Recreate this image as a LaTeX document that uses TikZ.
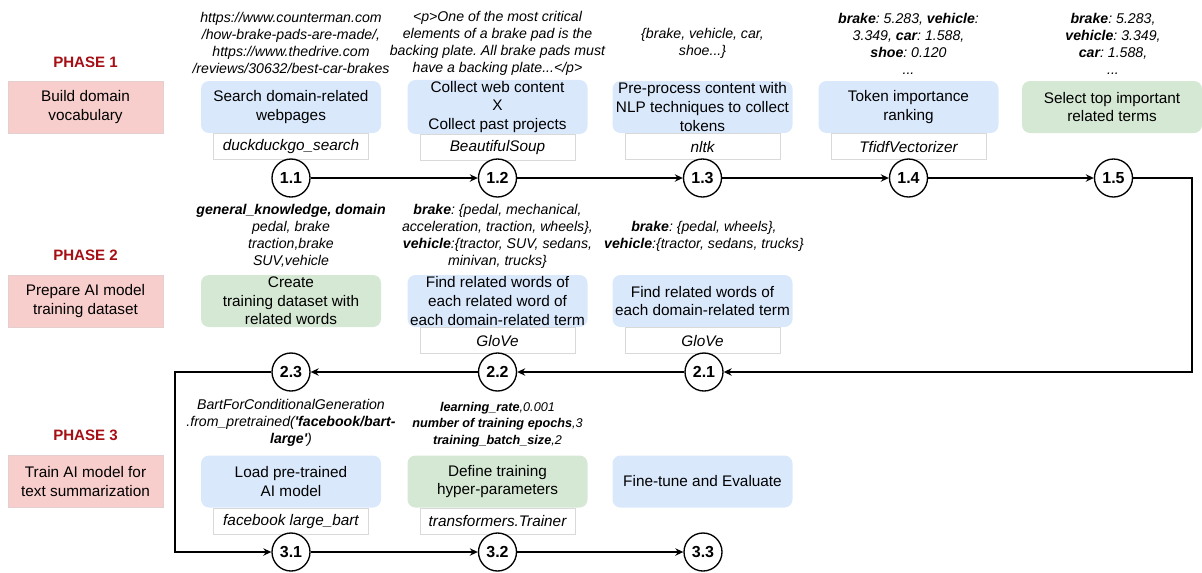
\documentclass[tikz,border=0pt]{standalone}
\usepackage{fontspec}
\setmainfont{Liberation Sans}
\usetikzlibrary{positioning,arrows.meta}
\frenchspacing

\definecolor{taskblue}{HTML}{DAE8FC}
\definecolor{taskgreen}{HTML}{D5E8D4}
\definecolor{phasepink}{HTML}{F8CECC}
\definecolor{phasered}{HTML}{A50F15}

\begin{document}
\begin{tikzpicture}[x=0.75pt,y=-0.75pt,
  phase/.style={fill=phasepink, draw=phasepink!85!black!60, minimum width=116pt, minimum height=39pt,
    align=center, font=\fontsize{11.5}{13.9}\selectfont},
  title/.style={text=phasered, font=\fontsize{11.3}{13}\selectfont\bfseries},
  task/.style={rounded corners=6pt, minimum width=135pt, minimum height=39pt, inner sep=1pt,
    align=center, font=\fontsize{11.5}{13.9}\selectfont},
  tool/.style={draw=black!15, fill=white, minimum width=116pt, minimum height=19.5pt, inner sep=1pt,
    font=\fontsize{11.5}{13.9}\selectfont\itshape},
  note/.style={align=center, inner sep=0pt, font=\fontsize{10.6}{12.75}\selectfont\itshape},
  num/.style={circle, draw, line width=1pt, fill=white, minimum size=28.5pt, inner sep=0pt,
    font=\fontsize{12}{14}\selectfont\bfseries},
  flow/.style={line width=1pt, -{Stealth[length=6pt,width=5.5pt]}}]

  \useasboundingbox (0,0) rectangle (1202,572);

  % phases
  \node[title] (ti1) at (85.5,62) {PHASE 1};
  \node[phase] (ph1) at (85.5,107) {Build domain\\vocabulary};
  \node[title] (ti2) at (85.5,255) {PHASE 2};
  \node[phase] (ph2) at (85.5,301) {Prepare AI model\\training dataset};
  \node[title] (ti3) at (85.5,435) {PHASE 3};
  \node[phase] (ph3) at (85.5,481.5) {Train AI model for\\text summarization};

  % phase 1
  \node[note] (n11) at (291,43) {https://www.counterman.com\\/how-brake-pads-are-made/,\\https://www.thedrive.com\\/reviews/30632/best-car-brakes};
  \node[task, fill=taskblue] (t11) at (291,107) {Search domain-related\\webpages};
  \node[tool, below=0pt of t11] (l11) {duckduckgo\_search};
  \node[num] (s11) at (291,178) {1.1};

  \node[note] (n12) at (497.5,43) {<p>One of the most critical\\elements of a brake pad is the\\backing plate. All brake pads must\\have a backing plate...</p>};
  \node[task, fill=taskblue] (t12) at (497.5,107) {Collect web content\\X\\Collect past projects};
  \node[tool, below=0pt of t12] (l12) {BeautifulSoup};
  \node[num] (s12) at (497.5,178) {1.2};

  \node[note] (n13) at (702.5,43) {\{brake, vehicle, car,\\shoe...\}};
  \node[task, fill=taskblue] (t13) at (702.5,107) {Pre-process content with\\NLP techniques to collect\\tokens};
  \node[tool, below=0pt of t13] (l13) {nltk};
  \node[num] (s13) at (702.5,178) {1.3};

  \node[note] (n14) at (908.5,44) {\textbf{brake}: 5.283, \textbf{vehicle}:\\3.349, \textbf{car}: 1.588,\\\textbf{shoe}: 0.120\\...};
  \node[task, fill=taskblue] (t14) at (908.5,107) {Token importance\\ranking};
  \node[tool, below=0pt of t14] (l14) {TfidfVectorizer};
  \node[num] (s14) at (908.5,178) {1.4};

  \node[note] (n15) at (1113,44) {\textbf{brake}: 5.283,\\\textbf{vehicle}: 3.349,\\\textbf{car}: 1.588,\\...};
  \node[task, fill=taskgreen] (t15) at (1112,107) {Select top important\\related terms};
  \node[num] (s15) at (1113.5,178) {1.5};

  % phase 2
  \node[note] (n21) at (704,236) {\textbf{brake}: \{pedal, wheels\},\\\textbf{vehicle}:\{tractor, sedans, trucks\}};
  \node[task, fill=taskblue] (t21) at (702.5,301) {Find related words of\\each domain-related term};
  \node[tool, below=0pt of t21] (l21) {GloVe};
  \node[num] (s21) at (704,372) {2.1};

  \node[note] (n22) at (497.5,236) {\textbf{brake}: \{pedal, mechanical,\\acceleration, traction, wheels\},\\\textbf{vehicle}:\{tractor, SUV, sedans,\\minivan, trucks\}};
  \node[task, fill=taskblue] (t22) at (497.5,301) {Find related words of\\each related word of\\each domain-related term};
  \node[tool, below=0pt of t22] (l22) {GloVe};
  \node[num] (s22) at (497.5,372) {2.2};

  \node[note] (n23) at (291,236) {\textbf{general\_knowledge, domain}\\pedal, brake\\traction,brake\\SUV,vehicle};
  \node[task, fill=taskgreen] (t23) at (291,301) {Create\\training dataset with\\related words};
  \node[num] (s23) at (291,372) {2.3};

  % phase 3
  \node[note] (n31) at (291,423) {BartForConditionalGeneration\\.from\_pretrained(\textbf{\textquotesingle facebook/bart-}\\\textbf{large\textquotesingle})};
  \node[task, fill=taskblue] (t31) at (291,481.5) {Load pre-trained\\AI model};
  \node[tool, below=0pt of t31] (l31) {facebook large\_bart};
  \node[num] (s31) at (291,552) {3.1};

  \node[note, font=\fontsize{9.5}{12.4}\selectfont\itshape] (n32) at (497.5,424.5) {\textbf{learning\_rate},0.001\\\textbf{number of training epochs},3\\\textbf{training\_batch\_size},2};
  \node[task, fill=taskgreen] (t32) at (497.5,481.5) {Define training\\hyper-parameters};
  \node[tool, below=0pt of t32] (l32) {transformers.Trainer};
  \node[num] (s32) at (497.5,552) {3.2};

  \node[task, fill=taskblue] (t33) at (702.5,481.5) {Fine-tune and Evaluate};
  \node[num] (s33) at (703,552) {3.3};

  % flow
  \coordinate (rgt) at (1192,0);
  \coordinate (lft) at (175,0);
  \draw[flow] (s11) -- (s12);
  \draw[flow] (s12) -- (s13);
  \draw[flow] (s13) -- (s14);
  \draw[flow] (s14) -- (s15);
  \draw[flow] (s15) -| (rgt |- s21) -- (s21);
  \draw[flow] (s21) -- (s22);
  \draw[flow] (s22) -- (s23);
  \draw[flow] (s23) -| (lft |- s31) -- (s31);
  \draw[flow] (s31) -- (s32);
  \draw[flow] (s32) -- (s33);
\end{tikzpicture}
\end{document}
